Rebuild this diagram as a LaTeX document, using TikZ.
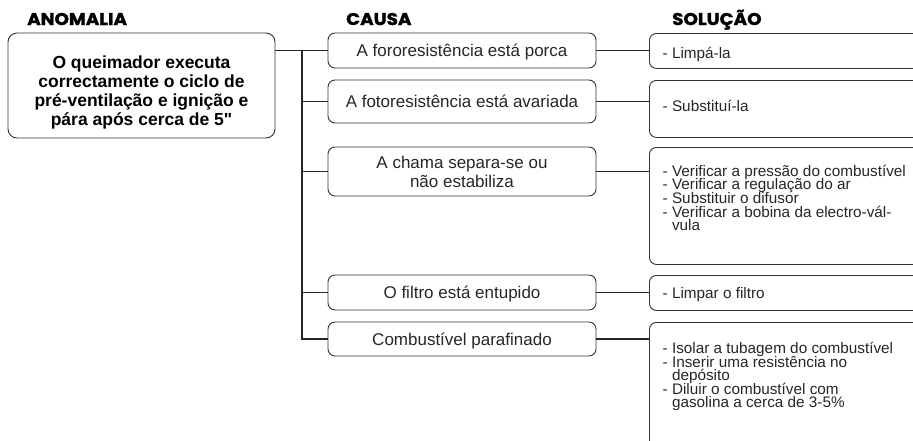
\documentclass[tikz,border=0pt]{standalone}
\usepackage{fontspec}
\setmainfont{Liberation Sans}[Ligatures=TeXOff]
\newfontfamily\headfont{Poppins}[FakeStretch=1.08, FakeBold=1.5]
\usetikzlibrary{positioning}

\begin{document}
\begin{tikzpicture}[x=1pt, y=-1pt,
  box/.style={rectangle, draw=black!80, line width=0.9pt, rounded corners=7pt, inner sep=0pt},
  anombox/.style={box, rounded corners=9pt, minimum width=267pt, minimum height=105pt},
  anomtext/.style={inner sep=0pt, align=center, font={\fontsize{17.5}{19.3}\selectfont\bfseries}},
  causebox/.style={box, minimum width=268pt, align=center, text=black!85,
    font={\fontsize{17}{19}\selectfont}},
  oneline/.style={text height=13pt, text depth=1pt},
  solbox/.style={box, minimum width=300pt, anchor=north west},
  soltext/.style={anchor=north west, inner sep=0pt, align=left, text=black!85,
    font={\fontsize{15.3}{13.6}\selectfont\lineskiplimit=-100pt}},
  header/.style={anchor=base west, inner sep=0pt, font={\fontsize{17}{17}\headfont\bfseries}},
  line/.style={draw, line width=1.4pt, black!85}]

  \useasboundingbox (0,0) rectangle (913,440);

  % column titles
  \node [header] (hanom) at (27,25) {ANOMALIA};
  \node [header] (hcausa) at (346,25) {CAUSA};
  \node [header] (hsol) at (672,25) {SOLUÇÃO};

  \node [anombox] (anom) at (141.5,85.5) {};
  \node [anomtext] (anomtxt) at (141.5,92.5) {O queimador executa\\correctamente o ciclo de\\pré-ventilação e ignição e\\pára após cerca de 5"};

  % causes
  \node [causebox, oneline, minimum height=35pt] (c1) at (462,50.5) {A fororesistência está porca};
  \node [causebox, oneline, minimum height=43pt] (c2) at (462,101.5) {A fotoresistência está avariada};
  \node [causebox, minimum height=49pt] (c3) at (462,171.5) {A chama separa-se ou\\não estabiliza};
  \node [causebox, oneline, minimum height=35pt] (c4) at (462,292.5) {O filtro está entupido};
  \node [causebox, oneline, minimum height=34pt] (c5) at (462,339) {Combustível parafinado};

  % solutions
  \node [solbox, minimum height=35pt] (s1) at (649,33) {};
  \node [solbox, minimum height=57pt] (s2) at (649,80) {};
  \node [solbox, minimum height=117pt] (s3) at (649,147) {};
  \node [solbox, minimum height=35pt] (s4) at (649,275) {};
  \node [solbox, minimum height=140pt] (s5) at (649,322) {};

  % text: first baseline 13pt below the anchor
  \def\sp{\rule{0pt}{13pt}}
  \def\ind{\hphantom{- }}
  \node [soltext] (t1) at (662.5,45.3) {\sp- Limpá-la};
  \node [soltext] (t2) at (662.5,98) {\sp- Substituí-la};
  \node [soltext] (t3) at (662.5,163) {\sp- Verificar a pressão do combustível\\- Verificar a regulação do ar\\- Substituir o difusor\\- Verificar a bobina da electro-vál-\\\ind vula};
  \node [soltext] (t4) at (662.5,285) {\sp- Limpar o filtro};
  \node [soltext] (t5) at (662.5,340.3) {\sp- Isolar a tubagem do combustível\\- Inserir uma resistência no\\\ind depósito\\- Diluir o combustível com\\\ind gasolina a cerca de 3-5\%};

  % connectors
  \coordinate (trunk) at (302,0);
  \draw [line] (anom.east |- c1) -- (c1.west);
  \draw [line] (trunk |- c1) -- (trunk |- c5) -- (c5.west);
  \foreach \i in {2,3,4}
    \draw [line] (trunk |- c\i) -- (c\i.west);
  \foreach \i in {1,...,5}
    \draw [line] (c\i.east) -- (c\i.east -| s\i.west);
\end{tikzpicture}
\end{document}
